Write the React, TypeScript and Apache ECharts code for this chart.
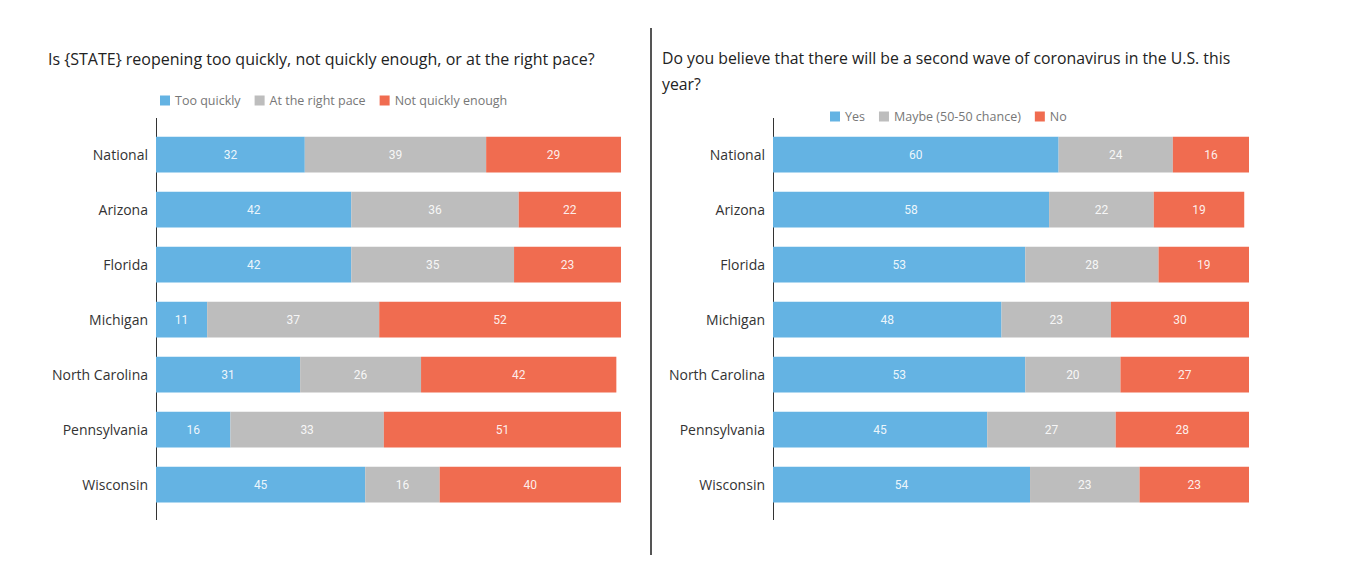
import React, { useEffect, useRef } from "react";
import * as echarts from "echarts";

const categories = ["National", "Arizona", "Florida", "Michigan", "North Carolina", "Pennsylvania", "Wisconsin"];
const tooQuickly = [32, 42, 42, 11, 31, 16, 45];
const rightPace = [39, 36, 35, 37, 26, 33, 16];
const notQuickly = [29, 22, 23, 52, 42, 51, 40];
const yes = [60, 58, 53, 48, 53, 45, 54];
const maybe = [24, 22, 28, 23, 20, 27, 23];
const no = [16, 19, 19, 30, 27, 28, 23];

const BLUE = "#64b3e3";
const GRAY = "#bdbdbd";
const RED = "#f06c50";
const FONT = "Open Sans";

export default function App() {
  const ref = useRef<HTMLDivElement>(null);
  useEffect(() => {
    const chart = echarts.init(ref.current!, undefined, { renderer: "svg" });
    const mk = (name: string, data: number[], color: string, idx: number) => ({
      name,
      type: "bar",
      stack: "s" + idx,
      xAxisIndex: idx,
      yAxisIndex: idx,
      data,
      barWidth: "65%",
      itemStyle: { color },
      label: { show: true, position: "inside", color: "rgba(255,255,255,0.9)", fontSize: 12, fontFamily: "Roboto" },
    });
    const yAx = (idx: number) => ({
      type: "category",
      gridIndex: idx,
      data: categories,
      inverse: true,
      axisLine: { show: false },
      axisTick: { show: false },
      axisLabel: { color: "#333", fontSize: 14, fontFamily: FONT, margin: 8 },
    });
    const xAx = (idx: number) => ({ type: "value", gridIndex: idx, min: 0, max: 100, show: false });
    const legendCommon = {
      itemWidth: 10,
      itemHeight: 10,
      icon: "rect",
      itemGap: 14,
      textStyle: { color: "#777", fontSize: 12.5, fontFamily: FONT },
    };
    chart.setOption({
      animation: false,
      grid: [
        { left: 156, top: 127, width: 465, height: 385 },
        { left: 773, top: 127, width: 476, height: 385 },
      ],
      xAxis: [xAx(0), xAx(1)],
      yAxis: [yAx(0), yAx(1)],
      legend: [
        { ...legendCommon, data: ["Too quickly", "At the right pace", "Not quickly enough"], left: 155, top: 89 },
        { ...legendCommon, data: ["Yes", "Maybe (50-50 chance)", "No"], left: 825, top: 105 },
      ],
      series: [
        mk("Too quickly", tooQuickly, BLUE, 0),
        mk("At the right pace", rightPace, GRAY, 0),
        mk("Not quickly enough", notQuickly, RED, 0),
        mk("Yes", yes, BLUE, 1),
        mk("Maybe (50-50 chance)", maybe, GRAY, 1),
        mk("No", no, RED, 1),
      ],
      graphic: [
        { type: "text", left: 48, top: 51, style: { text: "Is {STATE} reopening too quickly, not quickly enough, or at the right pace?", fill: "#222", fontSize: 16, fontFamily: FONT } },
        { type: "text", left: 662, top: 45, style: { text: "Do you believe that there will be a second wave of coronavirus in the U.S. this\nyear?", fill: "#222", fontSize: 15.8, lineHeight: 26, fontFamily: FONT } },
        { type: "line", shape: { x1: 156.5, y1: 118, x2: 156.5, y2: 520 }, style: { stroke: "#333", lineWidth: 1 } },
        { type: "line", shape: { x1: 773.5, y1: 118, x2: 773.5, y2: 520 }, style: { stroke: "#333", lineWidth: 1 } },
        { type: "line", shape: { x1: 651, y1: 28, x2: 651, y2: 555 }, style: { stroke: "#555", lineWidth: 2 } },
      ],
    });
    return () => chart.dispose();
  }, []);
  return <div ref={ref} style={{ position: "fixed", left: 0, top: 0, width: 1346, height: 570, background: "#fff" }} />;
}
